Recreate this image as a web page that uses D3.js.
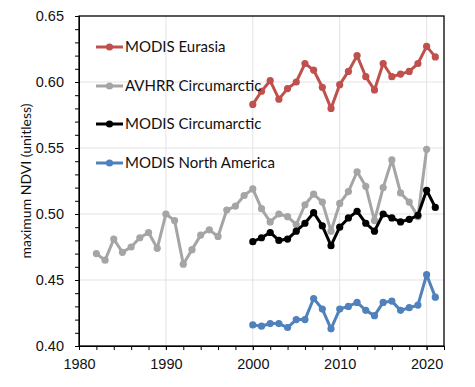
<!DOCTYPE html>
<html>
<head>
<meta charset="utf-8">
<script src="https://cdn.jsdelivr.net/npm/d3@7"></script>
<style>
  body { margin: 0; background: #fff; }
  svg { font-family: Lato, "Open Sans", sans-serif; }
  .grid line { stroke: #e3e3e3; stroke-width: 1; }
  .axis text { font-size: 14.5px; fill: #111; }
  .axis path, .axis line { stroke: #000; }
</style>
</head>
<body>
<svg width="475" height="387"></svg>
<script>
// years for each series
const avhrrYears = d3.range(1982, 2021)
const modisYears = d3.range(2000, 2022)

const eurasia = [0.583, 0.593, 0.601, 0.587, 0.595, 0.600, 0.614, 0.609, 0.596, 0.580, 0.598,
  0.608, 0.620, 0.604, 0.594, 0.614, 0.604, 0.606, 0.608, 0.614, 0.627, 0.619]

const avhrrCirc = [0.470, 0.465, 0.481, 0.471, 0.475, 0.482, 0.486, 0.474, 0.500, 0.495,
  0.462, 0.473, 0.484, 0.488, 0.483, 0.503, 0.506, 0.514, 0.519, 0.504, 0.494, 0.500,
  0.498, 0.492, 0.507, 0.515, 0.509, 0.487, 0.508, 0.517, 0.532, 0.521, 0.495, 0.520,
  0.541, 0.516, 0.509, 0.498, 0.549]

const modisCirc = [0.479, 0.482, 0.486, 0.480, 0.481, 0.487, 0.493, 0.501, 0.491, 0.476, 0.490,
  0.497, 0.502, 0.493, 0.487, 0.500, 0.497, 0.494, 0.496, 0.499, 0.518, 0.505]

const northAmerica = [0.416, 0.415, 0.417, 0.417, 0.414, 0.420, 0.420, 0.436, 0.428, 0.413, 0.428,
  0.430, 0.433, 0.427, 0.423, 0.433, 0.434, 0.427, 0.429, 0.431, 0.454, 0.437]

const legendNames = ['MODIS Eurasia', 'AVHRR Circumarctic', 'MODIS Circumarctic', 'MODIS North America']
const xTicks = [1980, 1990, 2000, 2010, 2020]
const yTicks = [0.40, 0.45, 0.50, 0.55, 0.60, 0.65]

const series = [
  { name: legendNames[0], years: modisYears, values: eurasia, color: '#c0504d' },
  { name: legendNames[1], years: avhrrYears, values: avhrrCirc, color: '#a5a5a5' },
  { name: legendNames[2], years: modisYears, values: modisCirc, color: '#000000' },
  { name: legendNames[3], years: modisYears, values: northAmerica, color: '#4f81bd' }
]

const margin = { top: 16, right: 31, bottom: 41, left: 79 }
const width = 475, height = 387
const innerW = width - margin.left - margin.right
const innerH = height - margin.top - margin.bottom

const svg = d3.select('svg')
const g = svg.append('g').attr('transform', `translate(${margin.left},${margin.top})`)

const x = d3.scaleLinear().domain([1980, 2022]).range([0, innerW])
const y = d3.scaleLinear().domain([0.40, 0.65]).range([innerH, 0])

// gridlines
g.append('g').attr('class', 'grid')
  .selectAll('line').data(yTicks.slice(1, -1)).join('line')
    .attr('x1', 0).attr('x2', innerW)
    .attr('y1', d => y(d)).attr('y2', d => y(d))
g.append('g').attr('class', 'grid')
  .selectAll('line').data(xTicks.slice(1)).join('line')
    .attr('x1', d => x(d)).attr('x2', d => x(d))
    .attr('y1', 0).attr('y2', innerH)

// minor ticks (every 0.01 / every 2 years)
g.append('g').attr('class', 'axis')
  .call(d3.axisLeft(y).tickValues(d3.range(0, 26).map(i => 0.40 + i * 0.01)).tickSize(4).tickFormat(''))
g.append('g').attr('class', 'axis').attr('transform', `translate(0,${innerH})`)
  .call(d3.axisBottom(x).tickValues(d3.range(1980, 2023, 2)).tickSize(4).tickFormat(''))

// labelled axes
const yAxis = g.append('g').attr('class', 'axis')
  .call(d3.axisLeft(y).tickValues(yTicks).tickSize(4).tickPadding(11).tickFormat(d3.format('.2f')))
const xAxis = g.append('g').attr('class', 'axis').attr('transform', `translate(0,${innerH})`)
  .call(d3.axisBottom(x).tickValues(xTicks).tickSize(4).tickPadding(9).tickFormat(d3.format('d')))
yAxis.select('.domain').remove()
xAxis.select('.domain').remove()

// frame
g.append('rect')
  .attr('width', innerW).attr('height', innerH)
  .attr('fill', 'none').attr('stroke', '#000').attr('stroke-width', 1.3)

svg.append('text')
  .attr('transform', `translate(27,${margin.top + innerH / 2}) rotate(-90)`)
  .attr('text-anchor', 'middle')
  .attr('dominant-baseline', 'middle')
  .style('font-size', '14px').attr('fill', '#111')
  .text('maximum NDVI (unitless)')

const line = d3.line().x(d => x(d[0])).y(d => y(d[1]))

series.forEach(s => {
  const pts = s.years.map((yr, i) => [yr, s.values[i]])
  g.append('path').datum(pts)
    .attr('d', line).attr('fill', 'none')
    .attr('stroke', s.color).attr('stroke-width', 3).attr('stroke-linejoin', 'round')
  g.append('g').selectAll('circle').data(pts).join('circle')
    .attr('cx', d => x(d[0])).attr('cy', d => y(d[1])).attr('r', 3.6)
    .attr('fill', s.color)
})

// legend
const legendY = [47, 86, 124, 163]
const lg = svg.append('g')
series.forEach((s, i) => {
  const row = lg.append('g').attr('transform', `translate(96,${legendY[i]})`)
  row.append('line').attr('x1', 0).attr('x2', 27).attr('stroke', s.color).attr('stroke-width', 3)
  row.append('circle').attr('cx', 13.5).attr('r', 3.6).attr('fill', s.color)
  row.append('text').attr('x', 29).attr('dy', '0.35em')
    .style('font-size', '15px').attr('fill', '#111').text(s.name)
})
</script>
</body>
</html>
